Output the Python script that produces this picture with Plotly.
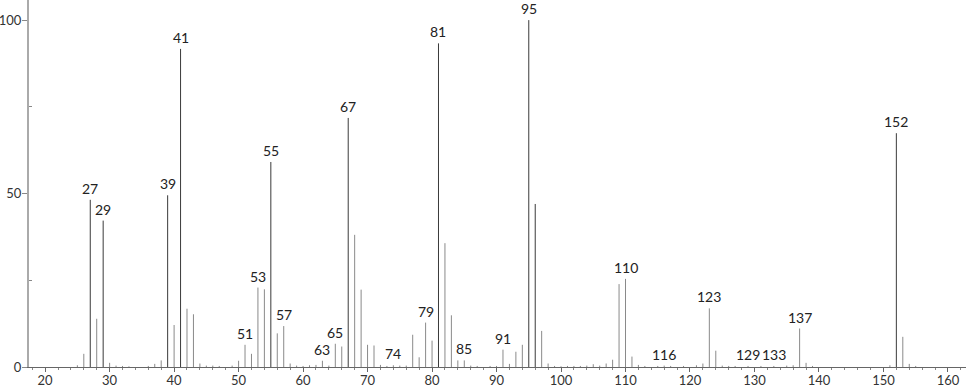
import plotly.graph_objects as go

mz = [25, 26, 27, 28, 29, 30, 31, 32, 33, 36, 37, 38, 39, 40, 41, 42, 43, 44, 45, 46, 47, 49,
      50, 51, 52, 53, 54, 55, 56, 57, 58, 59, 60, 61, 62, 63, 64, 65, 66, 67, 68, 69,
      70, 71, 72, 73, 74, 75, 76, 77, 78, 79, 80, 81, 82, 83, 84, 85, 86, 87, 89,
      90, 91, 92, 93, 94, 95, 96, 97, 98, 99, 100, 101, 102, 103, 104, 105, 106, 107, 108, 109,
      110, 111, 112, 113, 115, 116, 117, 119, 121, 122, 123, 124, 125, 126, 127, 129,
      131, 133, 135, 136, 137, 138, 139, 151, 152, 153, 154, 155]
intensity = [0.5, 3.8, 48.2, 13.9, 42.2, 1.2, 0.4, 0.3, 0.2, 0.3, 0.9, 1.9, 49.5, 12.1, 91.7, 16.8, 15.2, 1.0, 0.4, 0.4, 0.3, 0.4,
             1.8, 6.4, 3.8, 22.9, 22.4, 59.1, 9.7, 11.8, 1.0, 0.4, 0.3, 0.5, 0.6, 1.8, 0.4, 6.7, 5.9, 71.8, 38.1, 22.3,
             6.4, 6.2, 0.6, 0.3, 0.5, 0.4, 0.4, 9.3, 2.8, 12.8, 7.6, 93.3, 35.7, 14.9, 1.9, 1.9, 0.4, 0.3, 0.3,
             0.3, 5.0, 0.9, 4.4, 6.4, 100.0, 47.0, 10.4, 1.0, 0.3, 0.2, 0.3, 0.3, 0.3, 0.4, 0.8, 0.4, 1.0, 2.1, 23.9,
             25.4, 3.0, 0.6, 0.3, 0.3, 0.4, 0.3, 0.3, 0.5, 1.0, 16.9, 4.7, 0.4, 0.3, 0.3, 0.3,
             0.3, 0.3, 0.4, 0.5, 11.1, 1.2, 0.3, 0.5, 67.4, 8.7, 0.9, 0.3]
labeled = [27, 29, 39, 41, 51, 53, 55, 57, 63, 65, 67, 74, 79, 81, 85, 91, 95,
           110, 116, 123, 129, 133, 137, 152]
x_ticks = [20, 30, 40, 50, 60, 70, 80, 90, 100, 110, 120, 130, 140, 150, 160]
y_ticks = [0, 50, 100]

FONT = "Lato"


def stems(threshold_low, threshold_high):
    xs, ys = [], []
    for m, v in zip(mz, intensity):
        if threshold_low <= v < threshold_high:
            xs += [m, m, None]
            ys += [0, v, None]
    return xs, ys


fig = go.Figure()
lx, ly = stems(0, 40)
fig.add_trace(go.Scatter(x=lx, y=ly, mode="lines", line=dict(color="#8a8a8a", width=1),
                         hoverinfo="skip", showlegend=False))
hx, hy = stems(40, 1000)
fig.add_trace(go.Scatter(x=hx, y=hy, mode="lines", line=dict(color="#3a3a3a", width=1),
                         hoverinfo="skip", showlegend=False))

lookup = dict(zip(mz, intensity))
for m in labeled:
    fig.add_annotation(x=m, y=lookup[m], text=str(m), showarrow=False,
                       yanchor="bottom", xanchor="center", yshift=1,
                       font=dict(family=FONT, size=14, color="#222222"))

fig.update_layout(
    width=966, height=389,
    margin=dict(l=29, r=0, t=0, b=22),
    paper_bgcolor="white", plot_bgcolor="white",
    font=dict(family=FONT, size=14, color="#333333"),
    xaxis=dict(range=[17.5, 162.8], tickvals=x_ticks, ticktext=[str(t) for t in x_ticks],
               showgrid=False, zeroline=False, showline=True, linecolor="#666666", linewidth=1,
               ticks="outside", ticklen=4, tickcolor="#666666", automargin=False,
               ticklabelstandoff=-3,
               minor=dict(dtick=2, ticks="outside", ticklen=2, tickcolor="#888888"),
               tickfont=dict(family=FONT, size=13, color="#333333")),
    yaxis=dict(range=[0, 105.8], tickvals=y_ticks, ticktext=[str(t) for t in y_ticks],
               showgrid=False, zeroline=False, showline=True, linecolor="#aaaaaa", linewidth=2,
               ticks="outside", ticklen=5, tickcolor="#888888", automargin=False,
               ticklabelstandoff=-2,
               minor=dict(tickvals=[25, 75], ticks="inside", ticklen=3, tickcolor="#888888"),
               tickfont=dict(family=FONT, size=13, color="#333333")),
)

fig.write_html("out.html")
